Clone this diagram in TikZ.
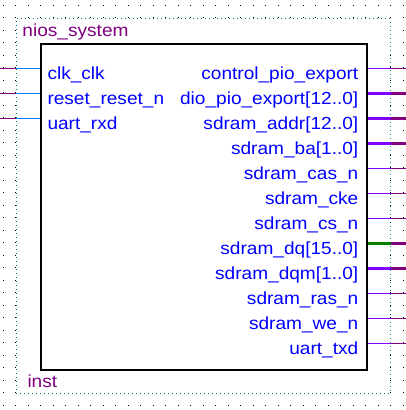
\documentclass[tikz,border=0pt]{standalone}
\usepackage{fontspec}
\newfontfamily\pinfont[FakeStretch=1.09]{Liberation Sans}
\definecolor{pintext}{RGB}{0,0,255}
\definecolor{qpurple}{RGB}{128,0,128}
\definecolor{qviolet}{RGB}{128,0,255}
\definecolor{qblue}{RGB}{0,128,255}
\definecolor{qgreen}{RGB}{0,128,0}
\definecolor{qteal}{RGB}{0,128,128}
\tikzset{
  pinlabel/.style={font=\pinfont\fontsize{17.5}{20}\selectfont, text=pintext, inner sep=0pt},
  titlelabel/.style={font=\pinfont\fontsize{17.5}{20}\selectfont, text=qpurple, inner sep=0pt},
  frame/.style={draw=qteal, line width=1pt, dash pattern=on 1pt off 3pt, fill=white, inner sep=0pt},
  symbolbox/.style={draw=black, line width=2pt, fill=white, inner sep=0pt},
  inS/.style={draw=qviolet, line width=1pt},
  inB/.style={draw=qviolet, line width=3pt},
  inG/.style={draw=qgreen, line width=3pt},
  outS/.style={draw=qpurple, line width=1pt},
  outB/.style={draw=qpurple, line width=3pt},
  outG/.style={draw=qpurple, line width=3pt},
  leftin/.style={draw=qblue, line width=1pt},
  leftout/.style={draw=qpurple, line width=1pt},
}
\begin{document}
\begin{tikzpicture}[x=1pt,y=-1pt]
\useasboundingbox[fill=white] (0,0) rectangle (406,410);
% background grid of dots
\foreach \i in {0,...,32}{
  \foreach \j in {0,...,32}{
    \fill[black] (3.3+12.5*\i-0.5, 6.2+12.5*\j-0.5) rectangle ++(1,-1);
  }
}
% dotted instance frame
\node[frame, anchor=north west, minimum width=373.8pt, minimum height=374.2pt] (frame) at (15.7,18.3) {};
% symbol box
\node[symbolbox, anchor=north west, minimum width=325.7pt, minimum height=326pt] (main) at (40.3,43.3) {};
% title and instance name
\node[titlelabel, anchor=base west] (title) at (22.3,36.7) {nios\_system};
\node[titlelabel, anchor=base west] (instname) at (27.3,387.3) {inst};
% left pins
\foreach \k/\lab in {0/clk\_clk, 1/reset\_reset\_n, 2/uart\_rxd}{
  \coordinate (le\k) at (0,68.5+25*\k);
  \coordinate (lx\k) at (frame.west |- le\k);
  \draw[leftout] (le\k) -- (lx\k);
  \draw[leftin] (lx\k) -- (main.west |- le\k);
  \node[pinlabel, anchor=base west] (lt\k) at (47.3,68.5+25*\k+11) {\lab};
}
% right pins
\foreach \k/\lab/\typ in {
  0/control\_pio\_export/S,
  1/dio\_pio\_export[12..0]/B,
  2/sdram\_addr[12..0]/B,
  3/sdram\_ba[1..0]/B,
  4/sdram\_cas\_n/S,
  5/sdram\_cke/S,
  6/sdram\_cs\_n/S,
  7/sdram\_dq[15..0]/G,
  8/sdram\_dqm[1..0]/B,
  9/sdram\_ras\_n/S,
  10/sdram\_we\_n/S,
  11/uart\_txd/S}{
  \coordinate (re\k) at (406,68.5+25*\k);
  \coordinate (rx\k) at (frame.east |- re\k);
  \draw[in\typ] (main.east |- re\k) -- (rx\k);
  \draw[out\typ] (rx\k) -- (re\k);
  \node[pinlabel, anchor=base east] (rt\k) at (358.5,68.5+25*\k+11) {\lab};
}
\end{tikzpicture}
\end{document}
